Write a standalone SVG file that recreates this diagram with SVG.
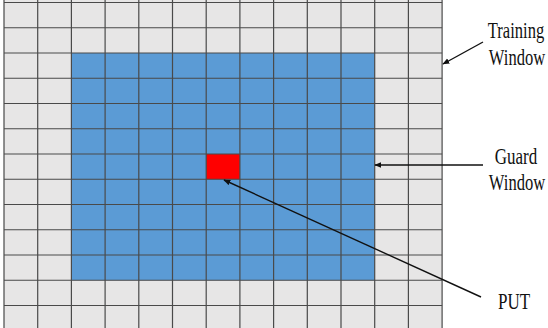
<svg xmlns="http://www.w3.org/2000/svg" width="548" height="328" viewBox="0 0 548 328">
<style>
.lbl{font-family:"Liberation Serif","Times New Roman",serif;font-size:23px;fill:#111;text-anchor:middle}
.gl{stroke:#4a4a4a;stroke-width:1.2;fill:none}
.conn{stroke:#111;stroke-width:1.4;fill:none;marker-end:url(#ah)}
</style>
<defs>
<marker id="ah" viewBox="0 0 10 10" refX="9" refY="5" markerWidth="5" markerHeight="5" orient="auto" markerUnits="strokeWidth">
<path d="M0,1 L10,5 L0,9 Z" fill="#111"/>
</marker>
</defs>
<rect width="548" height="328" fill="#fff"/>
<g id="grid">
<rect x="4" y="0" width="438" height="328" fill="#E7E6E6"/>
<rect id="guard-window" x="71.4" y="53" width="303.3" height="227.25" fill="#5B9BD5"/>
<rect id="put-cell" x="206.2" y="154" width="33.7" height="25.25" fill="#FF0000"/>
<path class="gl" d="M4,0V328M37.7,0V328M71.4,0V328M105.1,0V328M138.8,0V328M172.5,0V328M206.2,0V328M239.9,0V328M273.6,0V328M307.3,0V328M341,0V328M374.7,0V328M408.4,0V328M442.1,0V328"/>
<path class="gl" d="M4,2.5H442.1M4,27.75H442.1M4,53H442.1M4,78.25H442.1M4,103.5H442.1M4,128.75H442.1M4,154H442.1M4,179.25H442.1M4,204.5H442.1M4,229.75H442.1M4,255H442.1M4,280.25H442.1M4,305.5H442.1"/>
</g>
<g id="training-label">
<text class="lbl" transform="translate(516,38) scale(0.72,1)">Training</text>
<text class="lbl" transform="translate(517,65) scale(0.72,1)">Window</text>
</g>
<g id="guard-label">
<text class="lbl" transform="translate(516,164) scale(0.74,1)">Guard</text>
<text class="lbl" transform="translate(517,190) scale(0.72,1)">Window</text>
</g>
<g id="put-label">
<text class="lbl" transform="translate(514,309) scale(0.74,1)">PUT</text>
</g>
<g id="connectors">
<line class="conn" x1="483" y1="42" x2="443" y2="64"/>
<line class="conn" x1="483" y1="165" x2="375" y2="165"/>
<line class="conn" x1="481" y1="297" x2="224" y2="180"/>
</g>
</svg>
